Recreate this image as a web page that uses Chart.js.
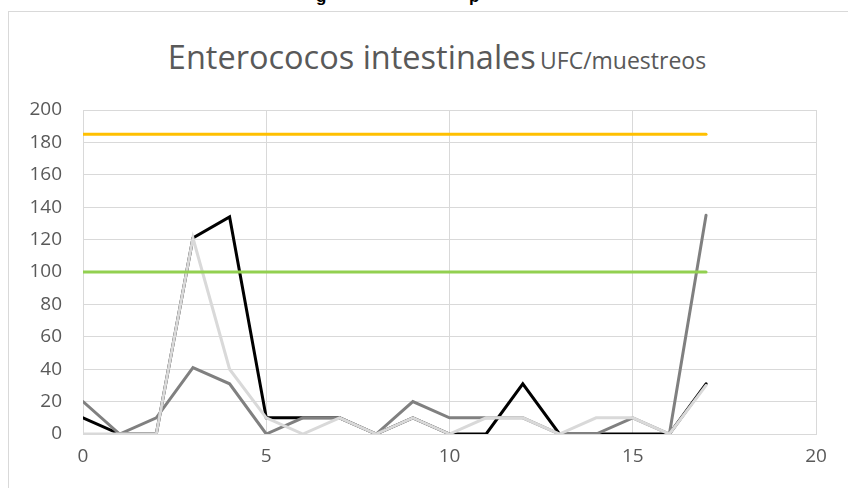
<!DOCTYPE html>
<html>
<head>
<meta charset="utf-8">
<script src="https://cdn.jsdelivr.net/npm/chart.js@4.4.0/dist/chart.umd.min.js"></script>
<style>
  html, body { margin:0; padding:0; background:#fff; width:848px; height:488px; overflow:hidden; }
  #frame { position:absolute; left:8px; top:11px; width:900px; height:600px; border:1px solid #d9d9d9; box-sizing:border-box; }
  #wrap { position:absolute; left:0; top:0; width:848px; height:488px; }
  #title { position:absolute; left:0; width:874px; top:34px; text-align:center; font-family:"Open Sans", sans-serif; color:#595959; white-space:nowrap; }
  #title .big { font-size:32.5px; }
  #title .small { font-size:23px; }
  .cut { position:absolute; font-family:"Liberation Sans", sans-serif; font-weight:bold; font-size:17px; line-height:17px; color:#000; }
</style>
</head>
<body>
<span class="cut" style="left:316px; top:-12px;">g</span>
<span class="cut" style="left:469px; top:-12px;">p</span>
<div id="frame"></div>
<div id="title"><span class="big">Enterococos intestinales</span> <span class="small">UFC/muestreos</span></div>
<div id="wrap"><canvas id="c" width="848" height="488"></canvas></div>
<script>
const muestreos = [0,1,2,3,4,5,6,7,8,9,10,11,12,13,14,15,16,17];
const serieNegra = [10,0,0,121,134,10,10,10,0,10,0,0,31,0,0,0,0,31];
const serieGrisOscuro = [20,0,10,41,31,0,10,10,0,20,10,10,10,0,0,10,0,135];
const serieGrisClaro = [0,0,0,121,40,10,0,10,0,10,0,10,10,0,10,10,0,30];
const limiteAmarillo = [185,185,185,185,185,185,185,185,185,185,185,185,185,185,185,185,185,185];
const limiteVerde = [100,100,100,100,100,100,100,100,100,100,100,100,100,100,100,100,100,100];
const xTicks = [0,5,10,15,20];
const yTicks = [0,20,40,60,80,100,120,140,160,180,200];

function pts(vals){ return muestreos.map((x,i)=>({x:x, y:vals[i]})); }
function ds(label, vals, color, order){
  return { label, data: pts(vals), borderColor: color, backgroundColor: color, borderWidth: 3,
    pointRadius: 0, tension: 0, borderCapStyle:'round', borderJoinStyle:'miter', fill:false, order };
}

new Chart(document.getElementById('c'), {
  type: 'line',
  data: { datasets: [
    ds('Límite 185', limiteAmarillo, '#FFC000', 0),
    ds('Límite 100', limiteVerde, '#92D050', 1),
    ds('Serie 3', serieGrisClaro, '#D9D9D9', 2),
    ds('Serie 2', serieGrisOscuro, '#808080', 3),
    ds('Serie 1', serieNegra, '#000000', 4)
  ]},
  options: {
    responsive:false, animation:false,
    layout: { padding: { left:0, right:32, top:110, bottom:0 } },
    plugins: { legend:{display:false}, tooltip:{enabled:false}, title:{display:false} },
    scales: {
      x: { type:'linear', min:0, max:20,
        afterBuildTicks: s => { s.ticks = xTicks.map(v=>({value:v})); },
        afterFit: s => { s.height = 54; },
        grid: { color:'#d9d9d9', lineWidth:1, drawTicks:false },
        border: { color:'#d9d9d9', width:1 },
        ticks: { padding:11, color:'#595959', font:{ family:'"Open Sans"', size:19 }, maxRotation:0 }
      },
      y: { type:'linear', min:0, max:200,
        afterBuildTicks: s => { s.ticks = yTicks.map(v=>({value:v})); },
        afterFit: s => { s.width = 83; },
        grid: { color:'#d9d9d9', lineWidth:1, drawTicks:false },
        border: { color:'#d9d9d9', width:1 },
        ticks: { padding:21, color:'#595959', font:{ family:'"Open Sans"', size:19 } }
      }
    }
  }
});
</script>
</body>
</html>
